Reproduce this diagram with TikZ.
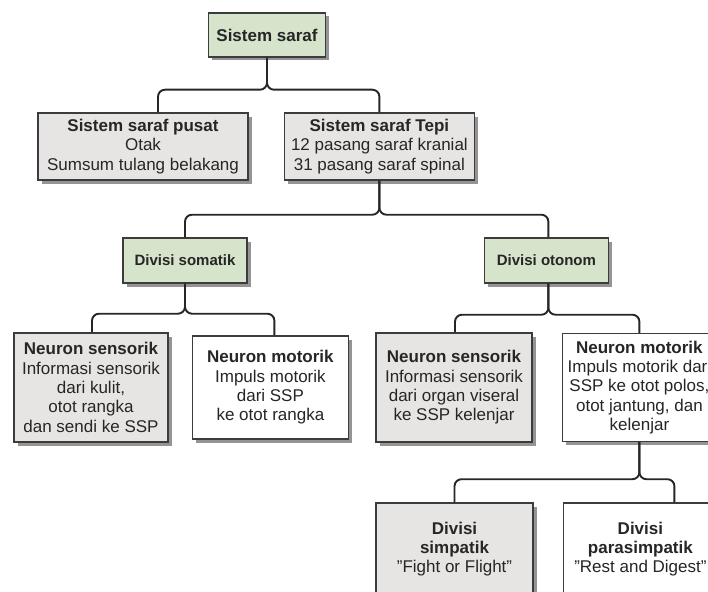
\documentclass[tikz,border=0pt]{standalone}
\usepackage{fontspec}
\setmainfont{Liberation Sans}
\usepackage{xcolor}
\usetikzlibrary{positioning, shadows}

\definecolor{boxgreen}{RGB}{214,228,203}
\definecolor{boxgray}{RGB}{231,229,227}
\definecolor{boxline}{RGB}{60,60,60}

\begin{document}
\begin{tikzpicture}[
    x=1pt, y=1pt,
    box/.style={draw=boxline, line width=1.4pt, align=center, inner sep=0pt, text=black!85,
        font=\fontsize{17}{19.3}\selectfont,
        drop shadow={shadow xshift=3.5pt, shadow yshift=-3.5pt, fill=black!60, opacity=0.7}},
    greenbox/.style={box, fill=boxgreen},
    graybox/.style={box, fill=boxgray},
    whitebox/.style={box, fill=white},
    divfont/.style={font=\fontsize{15}{18}\selectfont\bfseries},
    link/.style={line width=1.9pt, draw=black!85, rounded corners=7pt}
]
\useasboundingbox (0,0) rectangle (708,-591);
\clip (0,0) rectangle (708,-591);

% level 0 and 1
\node[greenbox, minimum width=117pt, minimum height=44pt] (saraf) at (267,-35) {\textbf{Sistem saraf}};
\node[graybox, minimum width=210pt, minimum height=67pt] (pusat) at (143,-146.5)
    {\textbf{Sistem saraf pusat}\\Otak\\Sumsum tulang belakang};
\node[graybox, minimum width=190pt, minimum height=67pt, right=35pt of pusat] (tepi)
    {\textbf{Sistem saraf Tepi}\\12 pasang saraf kranial\\31 pasang saraf spinal};

% divisions
\node[greenbox, divfont, minimum width=124pt, minimum height=45pt] (somatik) at (185,-260.5) {Divisi somatik};
\node[greenbox, divfont, minimum width=124pt, minimum height=45pt, right=236pt of somatik] (otonom) {Divisi otonom};

% neurons
\node[graybox, minimum width=154pt, minimum height=109pt] (sensL) at (91,-387.5)
    {\textbf{Neuron sensorik}\\Informasi sensorik\\dari kulit,\\otot rangka\\dan sendi ke SSP};
\node[whitebox, minimum width=156pt, minimum height=103pt, right=23pt of sensL] (motL)
    {\textbf{Neuron motorik}\\Impuls motorik\\dari SSP\\ke otot rangka};
\node[graybox, minimum width=156pt, minimum height=109pt] (sensR) at (454,-387.5)
    {\textbf{Neuron sensorik}\\Informasi sensorik\\dari organ viseral\\ke SSP kelenjar};
\node[whitebox, minimum width=154pt, minimum height=108pt, right=29pt of sensR] (motR)
    {\textbf{Neuron motorik}\\Impuls motorik dari\\SSP ke otot polos,\\otot jantung, dan\\kelenjar};

% autonomic branches
\node[graybox, minimum width=157pt, minimum height=92pt] (simp) at (454.5,-549)
    {\textbf{Divisi}\\\textbf{simpatik}\\"Fight or Flight"};
\node[whitebox, minimum width=154pt, minimum height=92pt, right=29pt of simp] (para)
    {\textbf{Divisi}\\\textbf{parasimpatik}\\"Rest and Digest"};

% connectors
\draw[link] (saraf.south) -- ++(0,-32) -| ([xshift=15pt]pusat.north);
\draw[link] (saraf.south) -- ++(0,-32) -| (tepi.north);
\draw[link] (tepi.south) -- ++(0,-34) -| (somatik.north);
\draw[link] (tepi.south) -- ++(0,-34) -| ([xshift=2pt]otonom.north);
\draw[link] (somatik.south) -- ++(0,-30) -| ([xshift=1pt]sensL.north);
\draw[link] (somatik.south) -- ++(0,-30) -| ([xshift=4pt]motL.north);
\draw[link] ([xshift=2pt]otonom.south) -- ++(0,-31) -| ([xshift=1pt]sensR.north);
\draw[link] ([xshift=2pt]otonom.south) -- ++(0,-31) -| (motR.north);
\draw[link] (motR.south) -- ++(0,-37) -| (simp.north);
\draw[link] (motR.south) -- ++(0,-37) -| ([xshift=34pt]para.north);
\end{tikzpicture}
\end{document}
